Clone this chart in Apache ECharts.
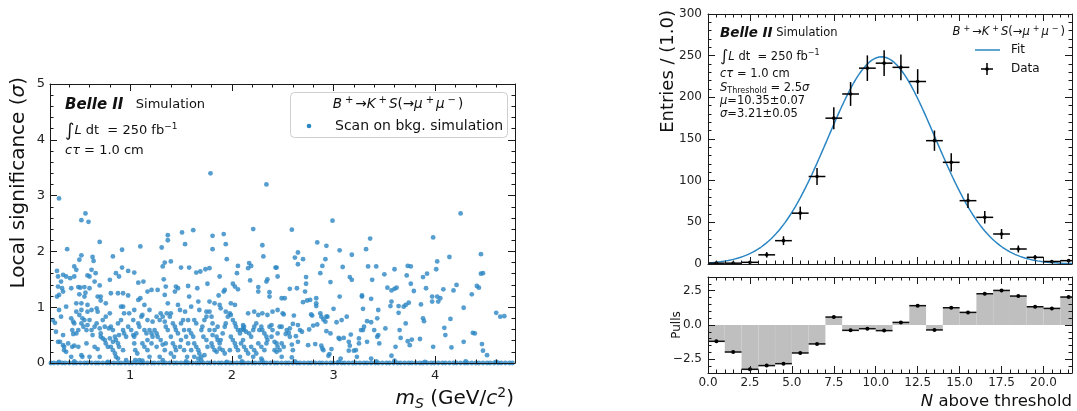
<!DOCTYPE html>
<html>
<head>
<meta charset="utf-8">
<script src="https://cdn.jsdelivr.net/npm/echarts@6/dist/echarts.min.js"></script>
<style>
html, body { margin: 0; padding: 0; background: #fff; }
#chart { width: 1077px; height: 411px; }
</style>
</head>
<body>
<div id="chart"></div>
<script>
// ---------------- data ----------------
// Local significance of the mass scan on background simulation: [m_S (GeV/c^2), significance]
const scanPoints = [
  [0.30,2.95],[1.79,3.40],[2.34,3.20],[0.52,2.56],[0.56,2.68],[0.59,2.53],[0.38,2.04],[0.70,2.17],[0.92,2.03],
  [1.10,2.09],[1.31,2.07],[1.37,2.29],[1.37,2.20],[1.51,2.34],[1.62,2.38],[1.54,2.13],[1.81,2.28],[1.81,2.04],
  [1.92,2.31],[1.94,2.13],[2.21,2.40],[2.30,2.11],[1.95,1.86],[2.31,1.91],[2.43,1.71],[0.83,1.91],[0.52,1.93],
  [0.28,1.65],[0.34,1.58],[0.29,1.55],[0.37,1.55],[0.32,1.46],[0.45,1.73],[0.47,1.67],[0.50,1.85],[0.45,1.55],
  [0.41,1.52],[0.29,1.37],[0.33,1.34],[0.34,1.28],[0.30,1.22],[0.42,1.34],[0.49,1.36],[0.51,1.35],[0.55,1.36],
  [0.50,1.23],[0.56,1.26],[0.60,1.34],[0.63,1.90],[0.64,1.83],[0.58,1.57],[0.60,1.55],[0.62,1.67],[0.66,1.61],
  [0.65,1.46],[0.70,1.39],[0.28,1.19],[0.37,1.01],[0.47,1.07],[0.52,1.07],[0.58,1.04],[0.55,1.19],[0.68,1.19],
  [0.71,1.19],[0.80,1.49],[0.81,1.25],[0.86,1.61],[0.89,1.55],[0.92,1.71],[0.98,1.65],[0.88,1.25],[0.93,1.25],
  [0.98,1.21],[1.04,1.62],[1.08,1.44],[1.13,1.46],[1.10,1.16],[1.17,1.28],[1.21,1.31],[1.27,1.31],[1.08,1.13],
  [1.14,1.04],[1.19,0.95],[0.93,1.01],[0.76,1.07],[0.71,1.12],[1.32,1.73],[1.34,1.80],[1.40,1.82],[1.33,1.50],
  [1.35,1.37],[1.45,1.37],[1.44,1.28],[1.47,1.34],[1.34,1.22],[1.50,1.71],[1.58,1.71],[1.57,1.38],[1.65,1.62],
  [1.69,1.64],[1.74,1.68],[1.76,1.42],[1.78,1.70],[1.66,1.34],[1.58,1.19],[1.67,1.10],[1.78,1.10],[1.87,1.21],
  [1.88,1.55],[1.92,1.28],[1.93,1.31],[2.01,1.42],[2.03,1.37],[2.06,1.32],[2.06,1.74],[2.05,1.61],[2.16,1.70],
  [2.17,1.79],[2.19,1.74],[2.18,1.48],[2.26,1.36],[2.26,1.28],[2.34,1.46],[2.35,1.50],[2.37,1.27],[2.44,1.71],
  [2.45,1.55],[2.37,1.19],[2.49,1.16],
  [0.26,0.72],[0.27,0.56],[0.29,0.38],[0.31,0.38],[0.34,0.50],[0.32,0.83],[0.34,0.32],[0.35,0.29],[0.37,0.20],
  [0.35,0.23],[0.39,0.35],[0.30,0.95],[0.24,0.77],
  [0.42,0.80],[0.44,0.74],[0.45,0.71],[0.43,0.59],[0.47,0.53],[0.44,0.52],[0.50,0.86],[0.52,0.95],[0.53,0.80],
  [0.55,0.77],[0.52,0.71],[0.54,0.65],[0.49,0.59],[0.57,0.59],[0.58,0.68],[0.43,0.29],[0.45,0.31],[0.42,0.11],
  [0.49,0.29],[0.52,0.14],[0.53,0.11],[0.57,0.35],[0.58,0.92],[0.47,0.92],
  [0.60,0.77],[0.62,0.59],[0.63,0.50],[0.65,0.65],[0.67,0.71],[0.68,0.92],[0.70,0.62],[0.71,0.53],[0.73,0.44],
  [0.75,0.41],[0.76,0.35],[0.78,0.29],[0.65,0.29],[0.68,0.25],[0.71,0.47],[0.73,0.77],[0.76,0.83],[0.60,0.11],
  [0.70,0.11],[0.62,0.95],[0.67,0.98],[0.75,0.65],
  [0.80,0.89],[0.81,0.65],[0.83,0.59],[0.85,0.47],[0.86,0.41],[0.88,0.35],[0.89,0.29],[0.81,0.29],[0.83,0.23],
  [0.85,0.17],[0.80,0.44],[0.88,0.71],[0.91,0.77],[0.93,0.59],[0.94,0.53],[0.96,0.47],[0.98,0.65],[0.91,1.01],
  [0.94,0.89],[0.93,0.23],[0.96,0.05],[0.88,0.08],[0.86,0.11],[0.89,0.50],[0.83,0.38],[0.79,0.62],
  [1.01,0.59],[1.03,0.50],[1.04,0.47],[1.06,0.53],[1.04,0.35],[1.05,0.23],[1.07,0.17],[1.08,0.71],[1.09,0.65],
  [1.11,0.83],[1.12,0.86],[1.14,0.59],[1.16,0.53],[1.17,0.77],[1.03,0.77],[0.99,0.89],[1.04,0.95],[1.12,0.35],
  [1.14,0.29],[1.17,0.23],[1.09,0.05],[1.05,0.05],[1.17,0.41],
  [1.19,0.59],[1.21,0.53],[1.22,0.47],[1.24,0.59],[1.26,0.53],[1.27,0.47],[1.21,0.35],[1.29,0.77],[1.30,0.89],
  [1.32,0.83],[1.34,0.74],[1.35,0.65],[1.30,0.41],[1.32,0.33],[1.34,0.23],[1.35,0.35],[1.22,0.74],[1.26,0.83],
  [1.37,0.59],[1.19,0.11],[1.29,0.11],[1.32,0.05],[1.26,0.29],[1.36,0.89],[1.37,1.07],
  [1.39,0.83],[1.40,0.89],[1.42,0.71],[1.44,0.65],[1.45,0.59],[1.47,0.53],[1.40,0.47],[1.42,0.35],[1.44,0.29],
  [1.45,0.23],[1.49,0.29],[1.50,0.71],[1.52,0.77],[1.53,0.59],[1.55,0.47],[1.57,0.35],[1.50,0.41],[1.53,0.23],
  [1.56,0.11],[1.40,0.17],[1.43,0.11],[1.49,0.95],[1.54,0.92],[1.47,1.04],[1.57,0.77],
  [1.58,0.59],[1.60,0.53],[1.62,0.47],[1.63,0.35],[1.65,0.29],[1.67,0.23],[1.68,0.17],[1.60,0.23],[1.63,0.11],
  [1.67,0.08],[1.70,0.59],[1.71,0.65],[1.73,0.77],[1.75,0.83],[1.72,0.47],[1.75,0.41],[1.76,0.29],[1.63,0.77],
  [1.65,0.71],[1.68,0.95],[1.60,1.01],[1.75,0.92],[1.70,0.11],[1.73,0.14],
  [1.78,0.92],[1.80,0.83],[1.81,0.71],[1.83,0.59],[1.85,0.47],[1.86,0.41],[1.88,0.35],[1.89,0.41],[1.91,0.53],
  [1.93,0.65],[1.94,0.71],[1.96,0.83],[1.80,0.35],[1.81,0.29],[1.83,0.23],[1.85,0.20],[1.88,0.26],[1.91,0.23],
  [1.93,0.17],[1.86,0.65],[1.83,1.07],[1.88,1.04],[1.89,0.98],[1.94,0.92],[1.78,0.59],[1.81,0.50],
  [1.98,0.89],[1.99,0.86],[2.01,0.77],[2.03,0.71],[2.04,0.65],[2.06,0.59],[2.08,0.53],[2.09,0.59],[2.11,0.62],
  [2.12,0.59],[2.14,0.56],[1.99,0.47],[2.01,0.41],[2.03,0.35],[2.04,0.29],[1.98,0.23],[2.06,0.23],[2.08,0.11],
  [2.09,0.35],[2.11,0.41],[2.12,0.29],[2.14,0.23],[2.16,0.17],[1.99,1.07],[2.03,1.04],[2.16,0.89],[2.11,0.68],
  [2.12,0.65],
  [2.17,0.53],[2.19,0.47],[2.21,0.59],[2.22,0.65],[2.24,0.71],[2.26,0.86],[2.27,0.59],[2.29,0.65],[2.30,0.59],
  [2.32,0.53],[2.34,0.47],[2.35,0.41],[2.19,0.29],[2.22,0.23],[2.24,0.17],[2.26,0.35],[2.29,0.29],[2.32,0.23],
  [2.34,0.35],[2.21,0.11],[2.29,0.08],[2.30,0.89],[2.22,0.92],[2.35,0.86],
  [2.37,0.65],[2.39,0.68],[2.40,0.59],[2.42,0.38],[2.44,0.35],[2.45,0.29],[2.47,0.23],[2.49,0.11],[2.45,0.53],
  [2.47,0.65],[2.49,0.65],[2.50,0.89],[2.39,0.47],[2.42,0.23],[2.44,0.20],[2.49,0.35],[2.40,0.92],[2.45,0.95],
  [4.25,2.68],[2.99,2.55],[2.59,2.39],[3.36,2.23],[3.98,2.25],[2.84,2.16],[2.93,2.10],[3.32,2.04],[3.06,2.02],
  [2.65,1.98],[2.62,1.89],[2.70,1.86],[2.92,1.86],[2.65,1.77],[2.89,1.74],[3.18,1.94],[4.45,1.95],[4.14,1.90],
  [4.02,1.82],[3.09,1.72],[3.34,1.73],[3.42,1.73],[3.60,1.68],[3.73,1.74],[3.76,1.73],[4.01,1.68],[2.87,1.61],
  [2.73,1.54],[2.97,1.45],[3.16,1.54],[3.18,1.49],[3.38,1.49],[3.50,1.59],[3.72,1.57],[3.92,1.60],[3.88,1.54],
  [3.76,1.42],[3.79,1.29],[3.53,1.35],[3.57,1.30],[3.60,1.33],[3.62,1.35],[3.91,1.34],[4.08,1.32],[4.21,1.40],
  [4.18,1.30],[4.45,1.60],[4.47,1.61],[4.41,1.38],[4.43,1.35],[4.36,1.23],[2.73,1.42],[2.72,1.28],[2.64,1.34],
  [2.57,1.33],[2.52,1.16],[2.70,1.09],[2.74,1.12],[2.77,1.13],[2.83,1.16],[2.83,1.07],[2.83,1.02],[3.06,1.19],
  [3.28,1.21],[3.28,1.19],[3.37,1.15],[3.29,0.97],[3.44,0.95],[3.56,1.02],[3.57,1.10],[3.64,1.02],[3.64,0.90],
  [3.69,1.01],[3.71,1.04],[3.74,1.08],[3.86,1.05],[3.97,1.19],[3.97,1.10],[4.02,1.19],[4.03,1.10],[4.05,1.16],
  [4.28,0.99],[4.60,0.90],[4.64,0.83],[4.68,0.84],
  [2.51,0.87],[2.61,0.85],[2.54,0.59],[2.57,0.62],[2.60,0.70],[2.65,0.68],[2.67,0.59],[2.69,0.56],[2.53,0.52],
  [2.56,0.54],[2.57,0.47],[2.63,0.48],[2.65,0.38],[2.59,0.33],[2.60,0.23],[2.51,0.29],[2.59,0.10],[2.75,0.32],
  [2.76,0.60],[2.78,0.87],[2.79,0.85],[2.80,0.67],[2.82,0.34],[2.84,0.69],[2.87,0.89],[2.88,0.83],[2.90,0.78],
  [2.92,0.74],[2.93,0.83],[2.88,0.31],[2.89,0.26],[2.90,0.23],[2.93,0.57],[2.94,0.83],[2.97,0.53],[2.96,0.16],
  [2.95,0.13],[2.98,0.25],[3.00,0.97],[3.03,0.73],[3.05,0.45],[3.06,0.43],[3.07,0.08],[3.08,0.77],[3.10,0.45],
  [3.13,0.83],[3.15,0.38],[3.16,0.31],[3.15,0.22],[3.17,0.51],[3.20,0.22],[3.22,0.23],[3.23,0.11],[3.25,0.44],
  [3.25,0.35],[3.27,0.59],[3.29,0.59],[3.30,0.65],[3.33,0.38],[3.33,0.75],[3.37,0.73],[3.37,0.08],[3.40,0.59],
  [3.43,0.47],[3.44,0.50],[3.45,0.35],[3.43,0.80],[3.51,0.62],[3.57,0.13],[3.61,0.29],[3.65,0.59],[3.66,0.45],
  [3.71,0.71],[3.73,0.39],[3.75,0.32],[3.77,0.42],[3.85,0.43],[3.88,0.80],[3.89,0.75],[3.98,0.29],[4.09,0.63],
  [4.10,0.50],[4.15,0.79],[4.16,0.28],[4.28,0.38],[4.37,0.54],[4.39,0.53],[4.46,0.34],[4.47,0.22],[4.51,0.14]
];
// Scan masses where the local significance is compatible with zero
const zeroMasses = [
  0.22,0.25,0.29,0.33,0.36,0.40,0.44,0.47,0.51,0.55,0.58,0.62,0.66,0.69,0.73,0.77,0.80,0.84,0.88,0.91,0.95,0.99,
  1.02,1.06,1.10,1.13,1.17,1.21,1.24,1.28,1.32,1.35,1.39,1.43,1.46,1.50,1.54,1.57,1.61,1.65,1.68,1.72,1.76,1.79,
  1.83,1.87,1.90,1.94,1.98,2.01,2.05,2.09,2.12,2.16,2.20,2.23,2.27,2.31,2.34,2.38,2.42,2.45,2.49,2.53,2.56,2.60,
  2.64,2.67,2.71,2.75,2.78,2.82,2.86,2.89,2.93,2.97,3.00,3.04,3.08,3.11,3.15,3.19,3.22,3.26,3.30,3.33,3.37,3.41,
  3.44,3.48,3.52,3.55,3.59,3.63,3.66,3.70,3.74,3.77,3.81,3.85,3.88,3.92,3.96,3.99,4.03,4.07,4.10,4.14,4.18,4.21,
  4.25,4.29,4.32,4.36,4.40,4.43,4.47,4.51,4.54,4.58,4.62,4.65,4.69,4.73,4.76
];
const nearZeroPoints = [
  [0.30,0.02],[0.45,0.03],[0.78,0.02],[1.12,0.04],[1.55,0.03],[1.70,0.04],[1.95,0.02],[2.10,0.03],
  [2.30,0.04],[2.62,0.03],[3.05,0.02],[3.42,0.03],[3.60,0.04],[3.90,0.02],[4.30,0.03],[4.60,0.02]
];

// Toy study: number of scan points above threshold
const nBins = [0.5,1.5,2.5,3.5,4.5,5.5,6.5,7.5,8.5,9.5,10.5,11.5,12.5,13.5,14.5,15.5,16.5,17.5,18.5,19.5,20.5,21.5];
const nEntries = [1,1,2,11,28,61,105,175,204,235,241,236,219,148,122,76,56,36,18,8,3,4];
const nPulls = [-1.19,-1.97,-3.23,-2.96,-2.82,-2.04,-1.38,0.58,-0.39,-0.27,-0.41,0.19,1.41,-0.36,1.26,0.92,2.28,2.52,2.11,1.33,1.21,2.04];

// Gaussian fit result
const fitMu = 10.35;
const fitSigma = 3.21;
const fitYield = 2000;

// Axis ticks
const leftXTicks = [1, 2, 3, 4];
const leftYTicks = [0, 1, 2, 3, 4, 5];
const histYTicks = [0, 50, 100, 150, 200, 250, 300];
const histXTicks = [0, 2.5, 5, 7.5, 10, 12.5, 15, 17.5, 20];
const pullYTicks = [-2.5, 0, 2.5];

// ---------------- style ----------------
const FONT = 'DejaVu Sans';
const INK = '#1a1a1a';
const BLUE = '#2b86c3';

function steps(a, b, d, skip) {
  const out = [];
  for (let v = a; v <= b + 1e-9; v += d) {
    const r = Math.round(v * 1000) / 1000;
    if (!skip.some(s => Math.abs(s - r) < 1e-6)) out.push(r);
  }
  return out;
}

// Four axes per dimension: main (with labels), mirror, and minor ticks on both sides
function axisSet(dim, grid, min, max, majors, minors, label) {
  const pos = dim === 'x' ? ['bottom', 'top'] : ['left', 'right'];
  const base = { type: 'value', gridIndex: grid, min: min, max: max, splitLine: { show: false }, z: 6 };
  const line = { show: true, onZero: false, lineStyle: { color: INK, width: 1 } };
  const noLine = { show: false, onZero: false };
  const major = { show: true, inside: true, length: 7, customValues: majors, lineStyle: { color: INK, width: 1 } };
  const minor = { show: true, inside: true, length: 3.5, customValues: minors, lineStyle: { color: INK, width: 1 } };
  const lbl = label ? Object.assign({ show: true, customValues: majors, color: '#222', fontFamily: FONT }, label) : { show: false };
  return [
    Object.assign({}, base, { position: pos[0], axisLine: line, axisTick: major, axisLabel: lbl }),
    Object.assign({}, base, { position: pos[1], axisLine: line, axisTick: major, axisLabel: { show: false } }),
    Object.assign({}, base, { position: pos[0], axisLine: noLine, axisTick: minor, axisLabel: { show: false } }),
    Object.assign({}, base, { position: pos[1], axisLine: noLine, axisTick: minor, axisLabel: { show: false } })
  ];
}

const mMin = 0.2113, mMax = 4.785;
const nMax = 21.7;

const xAxes = [].concat(
  axisSet('x', 0, mMin, mMax, leftXTicks, steps(0.4, 4.6, 0.2, leftXTicks),
    { fontSize: 13, margin: 6, formatter: v => String(v) }),
  axisSet('x', 1, 0, nMax, histXTicks, steps(0.5, 21.5, 0.5, histXTicks), null),
  axisSet('x', 2, 0, nMax, histXTicks, steps(0.5, 21.5, 0.5, histXTicks),
    { fontSize: 12, margin: 4, formatter: v => v.toFixed(1) })
);
const yAxes = [].concat(
  axisSet('y', 0, 0, 5, leftYTicks, steps(0.2, 4.8, 0.2, leftYTicks),
    { fontSize: 13, margin: 5, formatter: v => String(v) }),
  axisSet('y', 1, 0, 300, histYTicks, steps(10, 290, 10, histYTicks),
    { fontSize: 12, margin: 6, formatter: v => String(v) }),
  axisSet('y', 2, -3.5, 3.5, pullYTicks, steps(-3, 3, 0.5, pullYTicks),
    { fontSize: 12, margin: 6, formatter: v => (v < 0 ? '\u2212' + (-v).toFixed(1) : v.toFixed(1)) })
);

// Fit curve sampled along the axis
const fitCurve = [];
for (let i = 0; i <= 434; i++) {
  const x = i * 0.05;
  const z = (x - fitMu) / fitSigma;
  fitCurve.push([x, fitYield / (fitSigma * Math.sqrt(2 * Math.PI)) * Math.exp(-0.5 * z * z)]);
}

const histData = nBins.map((b, i) => [b, nEntries[i], Math.sqrt(nEntries[i])]);
const pullData = nBins.map((b, i) => [b, nPulls[i]]);
const scanData = scanPoints.concat(zeroMasses.map(m => [m, 0]), nearZeroPoints);

// ---------------- text helpers ----------------
function richFor(s) {
  const t = { fontFamily: FONT, fill: '#111' };
  return {
    n: Object.assign({ fontSize: s, lineHeight: Math.round(s * 1.25) }, t),
    i: Object.assign({ fontSize: s, fontStyle: 'italic', lineHeight: Math.round(s * 1.25) }, t),
    b: Object.assign({ fontSize: s + 2, fontStyle: 'italic', fontWeight: 'bold', lineHeight: Math.round(s * 1.25) }, t),
    sup: Object.assign({ fontSize: Math.round(s * 0.72), lineHeight: Math.round(s * 0.72), verticalAlign: 'top' }, t),
    msup: Object.assign({ fontSize: Math.round(s * 0.72), lineHeight: Math.round(s * 0.72), verticalAlign: 'top',
      padding: [0, 2, 0, 3] }, t),
    sub: Object.assign({ fontSize: Math.round(s * 0.72), lineHeight: Math.round(s * 0.8), verticalAlign: 'bottom' }, t),
    subi: Object.assign({ fontSize: Math.round(s * 0.72), fontStyle: 'italic', lineHeight: Math.round(s * 0.8), verticalAlign: 'bottom' }, t),
    int: Object.assign({ fontSize: Math.round(s * 1.35), lineHeight: Math.round(s * 1.35) }, t)
  };
}
function label(x, y, text, size, align, rot) {
  return {
    type: 'text', x: x, y: y, rotation: rot || 0, z: 20,
    style: { text: text, rich: richFor(size), align: align || 'left', verticalAlign: 'middle',
      fontFamily: FONT, fontSize: size, fill: '#111' }
  };
}
const decayText = '{i|B}{msup|+}{n|\u2192}{i|K}{msup|+}{i|S}{n|(\u2192}{i|\u03bc}{msup|+}{i|\u03bc}{msup|\u2212}{n|)}';
const lumiText = '{int|\u222b}{i|L}{n| dt  = 250 fb}{sup|\u22121}';
const ctauText = '{i|c\u03c4}{n| = 1.0 cm}';

const graphics = [
  // left panel annotations
  label(65, 105, '{b|Belle II}{n|   Simulation}', 13),
  label(65, 131, lumiText, 13),
  label(65, 151, ctauText, 13),
  { type: 'rect', shape: { x: 290.5, y: 92.5, width: 217, height: 45, r: 4 }, z: 15,
    style: { fill: 'rgba(255,255,255,0.85)', stroke: '#cfcfcf', lineWidth: 1 } },
  label(398, 104, decayText, 13.5, 'center'),
  { type: 'circle', shape: { cx: 309, cy: 126, r: 2.3 }, z: 20, style: { fill: BLUE } },
  label(335, 126, '{n|Scan on bkg. simulation}', 14),
  label(19, 77, '{n|Local significance (}{i|\u03c3}{n|)}', 20, 'right', Math.PI / 2),
  label(514, 399, '{i|m}{subi|S}{n| (GeV/}{i|c}{sup|2}{n|)}', 20, 'right'),
  // right panel annotations
  label(720, 33, '{b|Belle II}{n| Simulation}', 11.5),
  label(720, 57, lumiText, 11.5),
  label(720, 74, ctauText, 11.5),
  label(720, 88, '{i|S}{sub|Threshold}{n| = 2.5}{i|\u03c3}', 11.5),
  label(720, 101, '{i|\u03bc}{n|=10.35\u00b10.07}', 11.5),
  label(720, 114, '{i|\u03c3}{n|=3.21\u00b10.05}', 11.5),
  label(1065, 32, decayText, 11.5, 'right'),
  { type: 'line', shape: { x1: 975, y1: 50, x2: 1000, y2: 50 }, z: 20, style: { stroke: BLUE, lineWidth: 1.5 } },
  label(1011, 50, '{n|Fit}', 12),
  { type: 'line', shape: { x1: 981, y1: 69, x2: 993, y2: 69 }, z: 20, style: { stroke: '#000', lineWidth: 1.5 } },
  { type: 'line', shape: { x1: 987, y1: 63, x2: 987, y2: 75 }, z: 20, style: { stroke: '#000', lineWidth: 1.5 } },
  { type: 'circle', shape: { cx: 987, cy: 69, r: 1.8 }, z: 20, style: { fill: '#000' } },
  label(1011, 69, '{n|Data}', 12),
  label(668, 10, '{n|Entries / (1.0)}', 18, 'right', Math.PI / 2),
  label(677, 325, '{n|Pulls}', 12, 'center', Math.PI / 2),
  label(1072, 402, '{i|N}{n| above threshold}', 16.5, 'right')
];

const chart = echarts.init(document.getElementById('chart'), null, { renderer: 'canvas' });
chart.setOption({
  animation: false,
  backgroundColor: '#fff',
  textStyle: { fontFamily: FONT },
  grid: [
    { left: 50, top: 84, width: 465, height: 279 },
    { left: 708, top: 14, width: 364, height: 250 },
    { left: 708, top: 277, width: 364, height: 96 }
  ],
  xAxis: xAxes,
  yAxis: yAxes,
  graphic: graphics,
  series: [
    {
      type: 'scatter', xAxisIndex: 0, yAxisIndex: 0, data: scanData,
      symbol: 'circle', symbolSize: 4.8, itemStyle: { color: BLUE }, z: 3
    },
    {
      type: 'line', xAxisIndex: 4, yAxisIndex: 4, data: fitCurve, showSymbol: false,
      lineStyle: { color: BLUE, width: 1.5 }, z: 3
    },
    {
      type: 'custom', xAxisIndex: 4, yAxisIndex: 4, data: histData, clip: true, z: 4,
      encode: { x: 0, y: 1 },
      renderItem: function (params, api) {
        const x = api.value(0), y = api.value(1), e = api.value(2);
        const l = api.coord([x - 0.5, y]), r = api.coord([x + 0.5, y]);
        const t = api.coord([x, y + e]), b = api.coord([x, y - e]);
        return { type: 'group', children: [
          { type: 'line', shape: { x1: l[0], y1: l[1], x2: r[0], y2: r[1] }, style: { stroke: '#000', lineWidth: 1.5 } },
          { type: 'line', shape: { x1: t[0], y1: t[1], x2: b[0], y2: b[1] }, style: { stroke: '#000', lineWidth: 1.5 } },
          { type: 'circle', shape: { cx: l[0] / 2 + r[0] / 2, cy: l[1], r: 1.8 }, style: { fill: '#000' } }
        ] };
      }
    },
    {
      type: 'custom', xAxisIndex: 8, yAxisIndex: 8, data: pullData, clip: true, z: 3,
      encode: { x: 0, y: 1 },
      renderItem: function (params, api) {
        const x = api.value(0), v = api.value(1);
        const p0 = api.coord([x - 0.5, 0]), p1 = api.coord([x + 0.5, v]);
        return { type: 'rect',
          shape: { x: Math.min(p0[0], p1[0]), y: Math.min(p0[1], p1[1]),
                   width: Math.abs(p1[0] - p0[0]), height: Math.abs(p1[1] - p0[1]) },
          style: { fill: '#bfbfbf' } };
      }
    },
    {
      type: 'custom', xAxisIndex: 8, yAxisIndex: 8, data: pullData, clip: true, z: 4,
      encode: { x: 0, y: 1 },
      renderItem: function (params, api) {
        const x = api.value(0), v = api.value(1);
        const l = api.coord([x - 0.5, v]), r = api.coord([x + 0.5, v]);
        return { type: 'group', children: [
          { type: 'line', shape: { x1: l[0], y1: l[1], x2: r[0], y2: r[1] }, style: { stroke: '#111', lineWidth: 1.5 } },
          { type: 'circle', shape: { cx: l[0] / 2 + r[0] / 2, cy: l[1], r: 2 }, style: { fill: '#000' } }
        ] };
      }
    }
  ]
});
</script>
</body>
</html>
